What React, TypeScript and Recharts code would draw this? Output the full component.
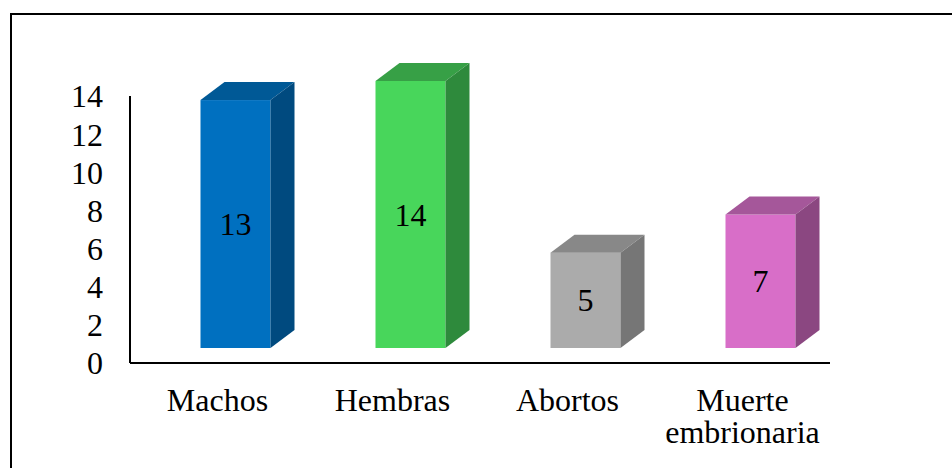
import React from 'react';
import { BarChart, Bar, XAxis, YAxis, LabelList } from 'recharts';

const categories = ['Machos', 'Hembras', 'Abortos', 'Muerte embrionaria'];
const counts = [13, 14, 5, 7];
const yTicks = [0, 2, 4, 6, 8, 10, 12, 14];

// face colours per bar: front, top, side
const frontColors = ['#0070C0', '#48D65B', '#ABABAB', '#D86EC8'];
const topColors = ['#005996', '#37A046', '#888888', '#A5579A'];
const sideColors = ['#004A7F', '#2E8A3C', '#767676', '#8B4781'];

const data = categories.map((name, i) => ({ name, value: counts[i] }));

const FONT = '"Liberation Serif", "Times New Roman", serif';

// front face sits forward of the axis plane, box depth goes up and right
const SHIFT_X = 17.5;
const SHIFT_Y = -15;
const DEPTH_X = 24;
const DEPTH_Y = 18;

const Box3D = (props: any) => {
  const { x, y, width, height, index } = props;
  const fx = x + SHIFT_X;
  const fy = y + SHIFT_Y;
  const fb = fy + height;
  const fr = fx + width;
  const top = `${fx},${fy} ${fx + DEPTH_X},${fy - DEPTH_Y} ${fr + DEPTH_X},${fy - DEPTH_Y} ${fr},${fy}`;
  const side = `${fr},${fy} ${fr + DEPTH_X},${fy - DEPTH_Y} ${fr + DEPTH_X},${fb - DEPTH_Y} ${fr},${fb}`;
  return (
    <g>
      <rect x={fx} y={fy} width={width} height={height} fill={frontColors[index]} />
      <polygon points={top} fill={topColors[index]} />
      <polygon points={side} fill={sideColors[index]} />
    </g>
  );
};

const ValueLabel = (props: any) => {
  const { x, y, width, height, value } = props;
  return (
    <text
      x={x + width / 2 + SHIFT_X}
      y={y + height / 2 + SHIFT_Y}
      textAnchor="middle"
      dominantBaseline="central"
      fontFamily={FONT}
      fontSize={32}
      fill="#000"
    >
      {value}
    </text>
  );
};

const CategoryTick = (props: any) => {
  const { x, y, payload } = props;
  const lines = String(payload.value).split(' ');
  return (
    <text x={x} y={y + 48} textAnchor="middle" fontFamily={FONT} fontSize={32} fill="#000">
      {lines.map((line, i) => (
        <tspan key={i} x={x} dy={i === 0 ? 0 : 32}>
          {line}
        </tspan>
      ))}
    </text>
  );
};

export default function App() {
  return (
    <div
      style={{
        position: 'absolute',
        top: 0,
        left: 0,
        width: 952,
        height: 468,
        overflow: 'hidden',
        background: '#fff',
      }}
    >
      <div
        style={{
          position: 'absolute',
          left: 10,
          top: 13,
          width: 1000,
          height: 500,
          borderLeft: '2px solid #000',
          borderTop: '2px solid #000',
        }}
      />
      <BarChart
        width={952}
        height={468}
        data={data}
        margin={{ top: 96, right: 122, left: 0, bottom: 15 }}
      >
        <XAxis
          dataKey="name"
          height={90}
          interval={0}
          tickLine={false}
          tickSize={0}
          tickMargin={0}
          axisLine={{ stroke: '#000', strokeWidth: 2 }}
          tick={<CategoryTick />}
        />
        <YAxis
          width={130}
          domain={[0, 14]}
          ticks={yTicks}
          interval={0}
          tickLine={false}
          tickSize={0}
          tickMargin={27}
          axisLine={{ stroke: '#000', strokeWidth: 2 }}
          tick={{ fill: '#000', fontSize: 32, fontFamily: FONT }}
        />
        <Bar dataKey="value" barSize={70} shape={<Box3D />} isAnimationActive={false}>
          <LabelList dataKey="value" content={<ValueLabel />} />
        </Bar>
      </BarChart>
    </div>
  );
}
